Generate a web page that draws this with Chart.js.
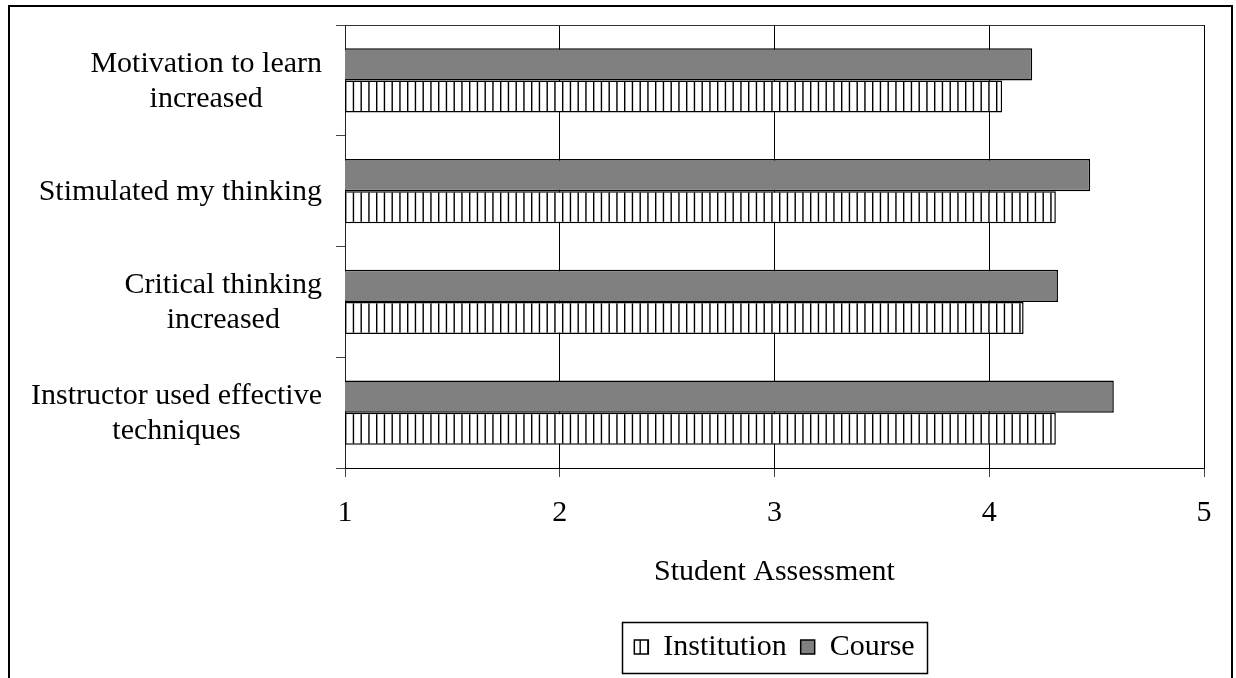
<!DOCTYPE html>
<html>
<head>
<meta charset="utf-8">
<script src="https://cdn.jsdelivr.net/npm/chart.js@4.4.1/dist/chart.umd.min.js"></script>
<style>
  html, body { margin: 0; padding: 0; background: #fff; }
  #c { display: block; }
</style>
</head>
<body>
<canvas id="c" width="1236" height="678"></canvas>
<script>
// Survey items (multi-line labels are arrays of lines)
const categories = [
  ['Motivation to learn', 'increased'],
  'Stimulated my thinking',
  ['Critical thinking', 'increased'],
  ['Instructor used effective', 'techniques']
];
// Mean ratings on the 1–5 scale
const course = [4.20, 4.47, 4.32, 4.58];
const institution = [4.06, 4.31, 4.16, 4.31];
const seriesNames = ['Course', 'Institution'];
const xTickValues = [1, 2, 3, 4, 5];
const axisTitle = 'Student Assessment';

const FONT = '"Liberation Serif", "Times New Roman", serif';
const canvas = document.getElementById('c');
const ctx0 = canvas.getContext('2d');

// Vertical hatch fill used for the Institution bars
function verticalHatch() {
  const p = document.createElement('canvas');
  p.width = 31; p.height = 8;
  const g = p.getContext('2d');
  g.fillStyle = '#fff';
  g.fillRect(0, 0, p.width, p.height);
  g.fillStyle = '#000';
  [4, 11.75, 19.5, 27.25].forEach(x => g.fillRect(x, 0, 1.4, p.height));
  return ctx0.createPattern(p, 'repeat');
}

// White page with a heavy outer frame
const framePlugin = {
  id: 'frame',
  beforeDraw(chart) {
    const ctx = chart.ctx;
    ctx.save();
    ctx.fillStyle = '#fff';
    ctx.fillRect(0, 0, chart.width, chart.height);
    ctx.strokeStyle = '#000';
    ctx.lineWidth = 2;
    ctx.strokeRect(9, 6, 1223, 700);
    ctx.restore();
  }
};

// Top edge of the plot area
const plotBorderPlugin = {
  id: 'plotBorder',
  afterDraw(chart) {
    const a = chart.chartArea, ctx = chart.ctx;
    ctx.save();
    ctx.strokeStyle = '#333';
    ctx.lineWidth = 1;
    ctx.beginPath();
    ctx.moveTo(a.left, Math.round(a.top) + 0.5);
    ctx.lineTo(a.right, Math.round(a.top) + 0.5);
    ctx.stroke();
    ctx.restore();
  }
};

// Category labels: block right-aligned against the axis, lines centred within the block
const LABEL_SHIFT = 1;
const categoryLabelPlugin = {
  id: 'categoryLabels',
  afterDraw(chart) {
    const ys = chart.scales.y, ctx = chart.ctx;
    ctx.save();
    ctx.font = '30px ' + FONT;
    ctx.fillStyle = '#000';
    ctx.textAlign = 'center';
    ctx.textBaseline = 'middle';
    const right = ys.right - 9 - 14;
    categories.forEach((lab, i) => {
      const lines = Array.isArray(lab) ? lab : [lab];
      const w = Math.max(...lines.map(l => ctx.measureText(l).width));
      const cx = right - w / 2;
      const cy = ys.getPixelForValue(i) + LABEL_SHIFT;
      lines.forEach((l, j) => ctx.fillText(l, cx, cy + (j - (lines.length - 1) / 2) * 35));
    });
    ctx.restore();
  }
};

// Box drawn around the legend entries
const legendBoxPlugin = {
  id: 'legendBox',
  afterDraw(chart) {
    const hb = chart.legend && chart.legend.legendHitBoxes;
    if (!hb || !hb.length) return;
    const ctx = chart.ctx;
    const l = Math.min(...hb.map(h => h.left)) - 12;
    const r = Math.max(...hb.map(h => h.left + h.width)) + 13;
    const cy = hb[0].top + hb[0].height / 2;
    ctx.save();
    ctx.strokeStyle = '#000';
    ctx.lineWidth = 1.5;
    ctx.strokeRect(Math.round(l) + 0.5, Math.round(cy - 25.5) + 0.5, Math.round(r - l), 51);
    ctx.restore();
  }
};

new Chart(canvas, {
  type: 'bar',
  data: {
    labels: categories.map(c => Array.isArray(c) ? c.join(' ') : c),
    datasets: [
      {
        label: seriesNames[0],
        data: course,
        backgroundColor: '#808080',
        borderColor: '#000',
        borderWidth: 1.5,
        borderSkipped: false
      },
      {
        label: seriesNames[1],
        data: institution,
        backgroundColor: verticalHatch(),
        borderColor: '#000',
        borderWidth: 1.5,
        borderSkipped: false
      }
    ]
  },
  options: {
    indexAxis: 'y',
    responsive: false,
    animation: false,
    devicePixelRatio: 1,
    categoryPercentage: 0.58,
    barPercentage: 1.0,
    layout: { padding: { top: 25, right: 32, left: 0, bottom: 6 } },
    plugins: {
      tooltip: { enabled: false },
      legend: {
        position: 'bottom',
        fullSize: false,
        reverse: true,
        labels: {
          color: '#000',
          font: { family: FONT, size: 30 },
          boxWidth: 14,
          boxHeight: 14,
          padding: 14
        }
      }
    },
    scales: {
      x: {
        type: 'linear',
        min: xTickValues[0],
        max: xTickValues[xTickValues.length - 1],
        afterBuildTicks(s) { s.ticks = xTickValues.map(v => ({ value: v })); },
        ticks: {
          color: '#000',
          font: { family: FONT, size: 30 },
          padding: 18,
          maxRotation: 0
        },
        grid: { color: '#000', lineWidth: 1, tickLength: 9, tickColor: '#444' },
        border: { color: '#000', width: 1 },
        title: {
          display: true,
          text: axisTitle,
          color: '#000',
          font: { family: FONT, size: 30 },
          padding: { top: 0, bottom: 28 }
        },
        afterFit(s) { s.height = 150; }
      },
      y: {
        type: 'category',
        offset: true,
        grid: { offset: true, drawOnChartArea: false, tickLength: 9, tickColor: '#444' },
        ticks: { display: false },
        border: { color: '#222', width: 1 },
        afterFit(s) { s.width = 345; }
      }
    }
  },
  plugins: [framePlugin, plotBorderPlugin, categoryLabelPlugin, legendBoxPlugin]
});
</script>
</body>
</html>
